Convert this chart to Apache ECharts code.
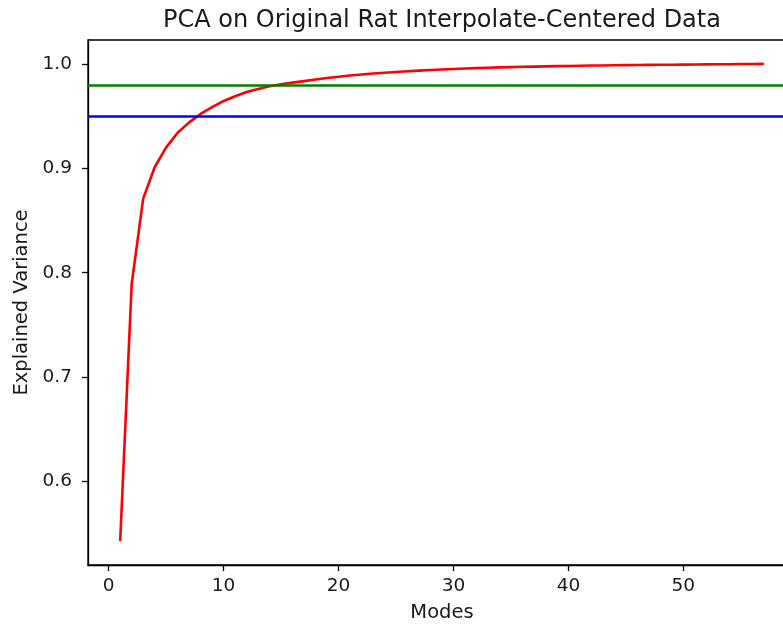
<!DOCTYPE html>
<html>
<head>
<meta charset="utf-8">
<title>PCA explained variance</title>
<script src="https://cdn.jsdelivr.net/npm/echarts@6/dist/echarts.min.js"></script>
<style>
  html, body { margin: 0; padding: 0; background: #fff; }
  #chart { width: 783px; height: 624px; }
</style>
</head>
<body>
<div id="chart"></div>
<script>
// cumulative explained variance per mode
const modes = [];
for (let i = 1; i <= 57; i++) modes.push(i);
const explained = [
  0.543, 0.789, 0.871, 0.901, 0.920, 0.934, 0.944, 0.952, 0.9585, 0.9645,
  0.969, 0.973, 0.976, 0.9785, 0.9805, 0.982, 0.9835, 0.985, 0.9865, 0.9877,
  0.9888, 0.9898, 0.9907, 0.9915, 0.9922, 0.9929, 0.9935, 0.9941, 0.9946, 0.9951,
  0.9955, 0.9959, 0.9963, 0.9966, 0.9969, 0.9972, 0.9974, 0.9976, 0.9978, 0.998,
  0.9982, 0.9984, 0.9985, 0.9987, 0.9988, 0.9989, 0.999, 0.9991, 0.9992, 0.9993,
  0.9994, 0.9995, 0.9996, 0.9997, 0.9998, 0.9999, 1.0
];
const thresholds = [0.98, 0.95];
const thresholdColors = ["#008000", "#0000ff"];
const xTicks = [0, 10, 20, 30, 40, 50];
const yTicks = [0.6, 0.7, 0.8, 0.9, 1.0];

const font = "DejaVu Sans";
const ink = "#1a1a1a";

// matplotlib-style 5% margins around the data
const xMin = 1 - 0.05 * 56, xMax = 57 + 0.05 * 56;
const yLo = Math.min(...explained), yHi = Math.max(...explained);
const yMin = yLo - 0.05 * (yHi - yLo), yMax = yHi + 0.05 * (yHi - yLo);

const chart = echarts.init(document.getElementById("chart"), null, { renderer: "canvas" });

const axisLineStyle = { color: "#000", width: 1.3 };

chart.setOption({
  animation: false,
  backgroundColor: "#fff",
  title: {
    text: "PCA on Original Rat Interpolate-Centered Data",
    left: 437,
    top: 4,
    textAlign: "center",
    textStyle: { fontFamily: font, fontSize: 24, fontWeight: "normal", color: ink }
  },
  grid: {
    // the reference is cropped: the right spine sits past the window edge
    left: 88, top: 40, right: -13, bottom: 59,
    outerBoundsMode: "none",
    show: true, borderColor: "#000", borderWidth: 1.3, backgroundColor: "transparent"
  },
  xAxis: {
    type: "value",
    min: xMin, max: xMax,
    name: "Modes",
    nameLocation: "middle",
    nameGap: 38,
    nameTextStyle: { fontFamily: font, fontSize: 19.5, color: ink },
    axisLine: { show: true, onZero: false, lineStyle: axisLineStyle },
    splitLine: { show: false },
    axisTick: { show: true, length: 6, customValues: xTicks, lineStyle: axisLineStyle },
    axisLabel: { customValues: xTicks, margin: 12, fontFamily: font, fontSize: 18.5, color: ink }
  },
  yAxis: {
    type: "value",
    min: yMin, max: yMax,
    name: "Explained Variance",
    nameLocation: "middle",
    nameGap: 51,
    nameTextStyle: { fontFamily: font, fontSize: 19.5, color: ink },
    axisLine: { show: true, onZero: false, lineStyle: axisLineStyle },
    splitLine: { show: false },
    axisTick: { show: true, length: 6, customValues: yTicks, lineStyle: axisLineStyle },
    axisLabel: {
      customValues: yTicks, margin: 16, fontFamily: font, fontSize: 18.5, color: ink,
      formatter: (v) => v.toFixed(1)
    }
  },
  series: [
    {
      type: "line",
      data: modes.map((m, i) => [m, explained[i]]),
      showSymbol: false,
      lineStyle: { color: "#ff0000", width: 2.6 },
      z: 2,
      silent: true
    },
    {
      type: "line",
      data: [],
      z: 3,
      silent: true,
      markLine: {
        silent: true,
        symbol: "none",
        label: { show: false },
        data: thresholds.map((t, i) => ({
          yAxis: t,
          lineStyle: { color: thresholdColors[i], width: 2.6, type: "solid" }
        }))
      }
    }
  ]
});
</script>
</body>
</html>
